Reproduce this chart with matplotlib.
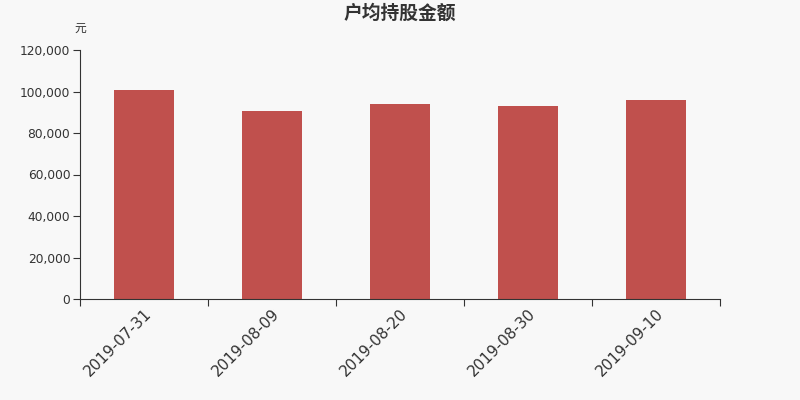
import matplotlib
matplotlib.use("Agg")
import matplotlib.pyplot as plt
from matplotlib.ticker import FuncFormatter, FixedLocator

plt.rcParams['font.family'] = ['DejaVu Sans', 'Noto Sans CJK SC']

categories = ["2019-07-31", "2019-08-09", "2019-08-20", "2019-08-30", "2019-09-10"]
values = [100800, 90700, 94100, 93100, 96000]
yticks = [0, 20000, 40000, 60000, 80000, 100000, 120000]

bg = "#f8f8f8"
fig = plt.figure(figsize=(8, 4), dpi=100, facecolor=bg)
ax = fig.add_axes([0.1, 0.2525, 0.8, 0.6225], facecolor=bg)

x = list(range(len(categories)))
ax.bar(x, values, width=0.47, color="#c0504d", zorder=2)

ax.set_xlim(-0.5, len(categories) - 0.5)
ax.set_ylim(0, 120000)
ax.set_yticks(yticks)
ax.yaxis.set_major_formatter(FuncFormatter(lambda v, p: f"{int(v):,}"))
ax.tick_params(axis='y', length=5, width=0.8, color="#333333", labelsize=8.8, labelcolor="#333333", pad=2)

ax.set_xticks(x)
ax.set_xticklabels(categories, rotation=45, ha='right', rotation_mode='anchor',
                   fontsize=11, color="#333333")
ax.tick_params(axis='x', which='major', length=0, pad=5)
ax.xaxis.set_minor_locator(FixedLocator([i - 0.5 for i in range(len(categories) + 1)]))
ax.tick_params(axis='x', which='minor', length=5, width=0.8, color="#333333")
for lbl in ax.get_xticklabels():
    lbl.set_x(lbl.get_position()[0])

for s in ['top', 'right']:
    ax.spines[s].set_visible(False)
for s in ['left', 'bottom']:
    ax.spines[s].set_color("#333333")
    ax.spines[s].set_linewidth(0.8)

fig.text(0.5, 0.966, "户均持股金额", ha='center', va='center', fontsize=13.5,
         fontweight='bold', color="#333333", family=['Noto Sans CJK SC', 'DejaVu Sans'])
fig.text(0.1, 0.929, "元", ha='center', va='center', fontsize=8.5, color="#333333",
         family=['Noto Sans CJK SC', 'DejaVu Sans'])

fig.savefig("out.png", dpi=100, facecolor=bg)
